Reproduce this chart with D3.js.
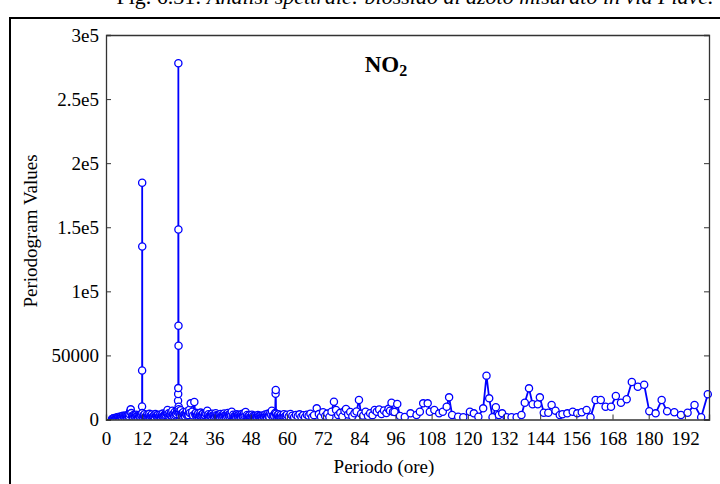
<!DOCTYPE html>
<html>
<head>
<meta charset="utf-8">
<script src="https://cdn.jsdelivr.net/npm/d3@7"></script>
<style>
html,body{margin:0;padding:0;background:#fff;}
svg{display:block;font-family:"Liberation Serif","Times New Roman",serif;}
</style>
</head>
<body>
<svg id="chart" width="720" height="484"></svg>
<script>
// ---- data (period in hours, periodogram value) ----
const periods = [
 2.0,2.4,2.8,3.2,3.6,4.0,4.4,4.8,5.2,5.6,6.0,6.4,6.8,7.2,7.6,8.0,8.2,8.4,8.8,9.2,9.6,10.0,10.4,10.8,11.2,11.6,
 11.96,11.98,12.0,12.02,12.04,
 12.4,12.8,13.2,13.6,14.0,14.4,14.8,15.2,15.6,16.0,16.4,16.8,17.2,17.6,18.0,18.4,18.8,19.2,19.6,20.0,20.4,20.8,
 21.2,21.6,22.0,22.4,22.8,23.2,23.6,23.9,23.94,23.97,24.0,24.02,24.04,24.06,24.09,24.1,
 24.4,24.8,25.2,25.6,26.0,26.4,26.8,27.2,27.6,28.1,28.6,29.3,29.8,30.2,30.6,31.0,31.4,31.8,32.2,32.6,33.0,33.6,
 34.0,34.4,34.8,35.2,35.6,36.0,36.4,36.8,37.2,37.6,38.0,38.4,38.8,39.2,39.6,40.0,40.4,40.8,41.2,41.7,42.2,42.6,
 43.0,43.4,43.8,44.2,44.6,45.0,45.4,45.8,46.3,46.8,47.2,47.6,48.0,48.4,48.8,49.2,49.6,50.0,50.4,50.8,51.2,51.6,
 52.0,52.4,52.8,53.2,53.6,54.0,54.5,55.0,55.6,56.1,56.25,56.3,56.4,56.8,57.2,57.6,58.0,58.5,59.0,59.5,60.0,
 60.6,61.2,61.8,62.4,63.0,63.6,64.2,64.8,65.4,66.0,66.6,67.2,67.8,68.4,69.0,69.9,70.6,71.3,72.0,72.7,73.4,74.1,
 74.8,75.6,76.3,77.0,77.7,78.4,79.1,79.6,80.3,81.0,81.7,82.4,83.1,83.9,84.6,85.3,86.1,86.9,87.6,88.4,89.1,89.8,
 90.6,91.4,92.2,93.0,93.7,94.2,94.7,95.2,95.7,96.6,97.5,99.1,101.0,103.0,104.1,105.2,106.7,107.4,108.9,110.5,
 111.7,113.0,113.8,114.8,116.8,118.5,120.7,122.0,123.5,125.1,126.2,127.1,128.2,129.3,130.3,131.4,132.9,134.5,
 136.2,137.8,138.9,140.3,141.5,143.2,143.9,145.2,146.7,147.8,149.1,150.5,151.4,153.0,154.8,156.3,157.8,159.4,
 160.7,162.4,164.1,165.7,167.5,169.1,170.8,172.7,174.4,176.4,178.5,180.2,182.3,184.3,186.1,188.5,190.7,192.9,
 195.2,197.4,199.6
];
const values = [
 300,800,1200,600,1500,2000,1100,2400,1800,2900,2200,3100,2000,3400,2600,6500,7900,5000,3000,3600,2500,3800,2900,3300,2400,4000,
 10100,38200,184700,135000,5000,
 3200,4100,2600,3700,2900,4400,3000,3900,2400,3500,4200,2800,3600,2500,3900,3100,4600,3300,4000,5200,7400,4800,
 3600,5500,6900,4200,5800,4500,6600,14700,19900,24500,278000,148200,73100,57500,10000,8000,
 5000,7200,4100,5600,3800,4900,6300,4000,7500,12600,6100,13600,5200,3600,4800,3100,5400,3900,4600,3200,5000,6900,
 4100,2900,3800,4500,2700,3600,4900,3000,2400,3500,4300,2800,3300,4700,2600,3900,5100,3400,4400,6100,3700,2500,
 3200,4000,2900,3600,2300,4200,3100,4800,5800,3500,2600,3300,2200,3800,2700,1900,3000,2400,3600,2100,2900,1800,
 3200,2500,3900,2200,4400,3000,5300,6900,3400,5000,20000,23000,4500,3100,4000,2600,3500,2300,4100,2800,3700,
 2400,4300,3000,1800,3600,2500,4000,2200,3300,1700,3800,2900,4500,2000,3400,8700,4200,2100,5600,2800,4600,1900,
 6000,13900,7500,3500,5200,2400,6600,8200,3900,5900,2600,4800,6300,15200,4500,3000,6100,2700,4900,3400,7400,6000,
 7800,4200,7000,5000,8300,6900,13100,6100,5800,12100,2700,2000,4800,3500,6100,12600,12600,6100,7400,4800,
 6100,10000,17300,3500,2200,1700,6100,4800,2200,8700,34200,16500,1700,9500,3500,4800,1700,1700,
 1700,3500,13100,24300,11900,11900,17300,5300,5300,11300,6900,3500,4100,4800,6100,4800,5600,7400,
 1700,15200,15200,10000,10000,18300,13100,15800,29300,25600,27100,6400,4800,15200,6400,5600,3500,5300,
 11300,1700,19700
];
// extra low-level points of the dense short-period band
const periodsDense = [
 2.2,2.6,3.0,3.4,3.8,4.2,4.6,5.0,5.4,5.8,6.2,6.6,7.0,7.4,7.8,8.6,9.0,9.4,9.8,10.2,10.6,11.0,11.4,11.8,
 12.2,12.6,13.0,13.4,13.8,14.2,14.6,15.0,15.4,15.8,16.2,16.6,17.0,17.4,17.8,18.2,18.6,19.0,19.4,19.8,20.2,20.6,
 21.0,21.4,21.8,22.2,22.6,23.0,23.4,23.8,
 24.2,24.6,25.0,25.4,25.8,26.2,26.6,27.0,27.4,27.8,28.4,28.9,29.6,30.0,30.4,30.8,31.2,31.6,32.0,32.4,32.8,33.3,
 33.8,34.2,34.6,35.0,35.4,35.8,36.2,36.6,37.0,37.4,37.8,38.2,38.6,39.0,39.4,39.8,40.2,40.6,41.0,41.4,42.0,42.4,
 42.8,43.2,43.6,44.0,44.4,44.8,45.2,45.6,46.0,46.6,47.0,47.4,47.8,48.2,48.6,49.0,49.4,49.8,50.2,50.6,51.0,51.4,
 51.8,52.2,52.6,53.0,53.4,53.8,54.2,54.8,55.3,55.8,56.6,57.0,57.4,57.8,58.2,58.8,59.2,59.8
];
const valuesDense = [
 500,1000,700,1300,900,1700,1400,2100,1200,2600,1500,2700,1800,2300,4100,2700,1900,3200,1700,2600,1500,2800,1900,3000,
 1800,2900,1500,2400,1900,3100,1600,2700,1900,2200,1400,3000,2100,1500,2800,2000,3300,2300,2900,3600,4500,3100,
 2400,4000,3000,3700,2600,3300,4200,5600,
 6200,3500,4400,2800,3600,2500,4100,2900,3400,5100,4300,3200,4000,2800,3300,2200,3700,2600,3000,2100,3500,4200,
 2700,1900,2900,2300,3200,1800,2600,3300,1900,2700,2200,3000,1700,2500,3100,2000,2800,3600,2300,3000,2400,1700,
 2600,2000,2900,1600,2500,1900,3000,2100,2700,2300,1800,2400,1500,2600,1700,2200,1300,2000,1600,2500,1400,2100,
 1200,2300,1600,2700,1500,2900,2000,3600,2400,2800,2000,2900,1700,2500,1600,2700,1900,2400
];
const xTicks = [0,12,24,36,48,60,72,84,96,108,120,132,144,156,168,180,192];
const yTicks = [0,50000,100000,150000,200000,250000,300000];
const yTickLabels = ["0","50000","1e5","1.5e5","2e5","2.5e5","3e5"];

const data = periods.map((p,i)=>({p:p, v:values[i]}))
  .concat(periodsDense.map((p,i)=>({p:p, v:valuesDense[i]})))
  .sort((a,b)=>a.p-b.p);

const svg = d3.select("#chart");
const W = 720, H = 484;
const m = {left:106, right:11, top:35, bottom:64.5};
const FONT = "Liberation Serif, Times New Roman, serif";

svg.append("rect").attr("width",W).attr("height",H).attr("fill","#fff");

// outer frame
svg.append("rect").attr("x",10).attr("y",18).attr("width",720).attr("height",480)
  .attr("fill","none").attr("stroke","#000").attr("stroke-width",2);

// title (partly cut at top, as in the reference)
const title = svg.append("text").attr("x",415).attr("y",4).attr("text-anchor","middle")
  .attr("font-size",22).attr("fill","#000").attr("font-family",FONT);
title.append("tspan").text("Fig. 6.31: ");
title.append("tspan").attr("font-style","italic").text("Analisi spettrale: biossido di azoto misurato in via Piave.");

const x = d3.scaleLinear().domain([0,200]).range([m.left, W-m.right]);
const y = d3.scaleLinear().domain([0,300000]).range([H-m.bottom, m.top]);

const g = svg.append("g");

svg.append("clipPath").attr("id","clip").append("rect")
  .attr("x",m.left).attr("y",m.top-6).attr("width",W-m.right-m.left+6).attr("height",H-m.bottom-m.top+6);

const plot = g.append("g").attr("clip-path","url(#clip)");
const line = d3.line().x(d=>x(d.p)).y(d=>y(d.v));
plot.append("path").datum(data).attr("d",line)
  .attr("fill","none").attr("stroke","#0000ff").attr("stroke-width",1.8);
plot.selectAll("circle").data(data).enter().append("circle")
  .attr("cx",d=>x(d.p)).attr("cy",d=>y(d.v)).attr("r",3.6)
  .attr("fill","#fff").attr("stroke","#0000ff").attr("stroke-width",1.3);

// axes (ticks inward)
const ax = g.append("g");
const leftAxis = d3.axisLeft(y).tickValues(yTicks).tickSize(-5).tickFormat((d,i)=>yTickLabels[i]).tickPadding(7);
const la = ax.append("g").attr("transform",`translate(${m.left},0)`).call(leftAxis);
const rightAxis = d3.axisRight(y).tickValues(yTicks).tickSize(-5).tickFormat("");
const ra = ax.append("g").attr("transform",`translate(${W-m.right},0)`).call(rightAxis);
const bottomAxis = d3.axisBottom(x).tickValues(xTicks).tickSize(-5).tickFormat(d3.format("d")).tickPadding(12);
const ba = ax.append("g").attr("transform",`translate(0,${H-m.bottom})`).call(bottomAxis);
const topAxis = d3.axisTop(x).tickValues([]).tickSize(0);
const ta = ax.append("g").attr("transform",`translate(0,${m.top})`).call(topAxis);
[la,ra,ba,ta].forEach(a=>{
  a.attr("font-family",FONT).attr("font-size",19);
  a.selectAll("path.domain").attr("stroke","#333").attr("stroke-width",1.3);
  a.selectAll(".tick line").attr("stroke","#333").attr("stroke-width",1);
  a.selectAll("text").attr("fill","#000");
});

// axis titles
svg.append("text").attr("x",384).attr("y",473).attr("text-anchor","middle")
  .attr("font-family",FONT).attr("font-size",19).text("Periodo (ore)");
svg.append("text").attr("transform","translate(37,231) rotate(-90)").attr("text-anchor","middle")
  .attr("font-family",FONT).attr("font-size",19).text("Periodogram Values");

// NO2 label
const lab = svg.append("text").attr("x",386).attr("y",72).attr("text-anchor","middle")
  .attr("font-family",FONT).attr("font-size",23).attr("font-weight","bold");
lab.append("tspan").text("NO");
lab.append("tspan").attr("font-size",16).attr("dy",4).text("2");
</script>
</body>
</html>
